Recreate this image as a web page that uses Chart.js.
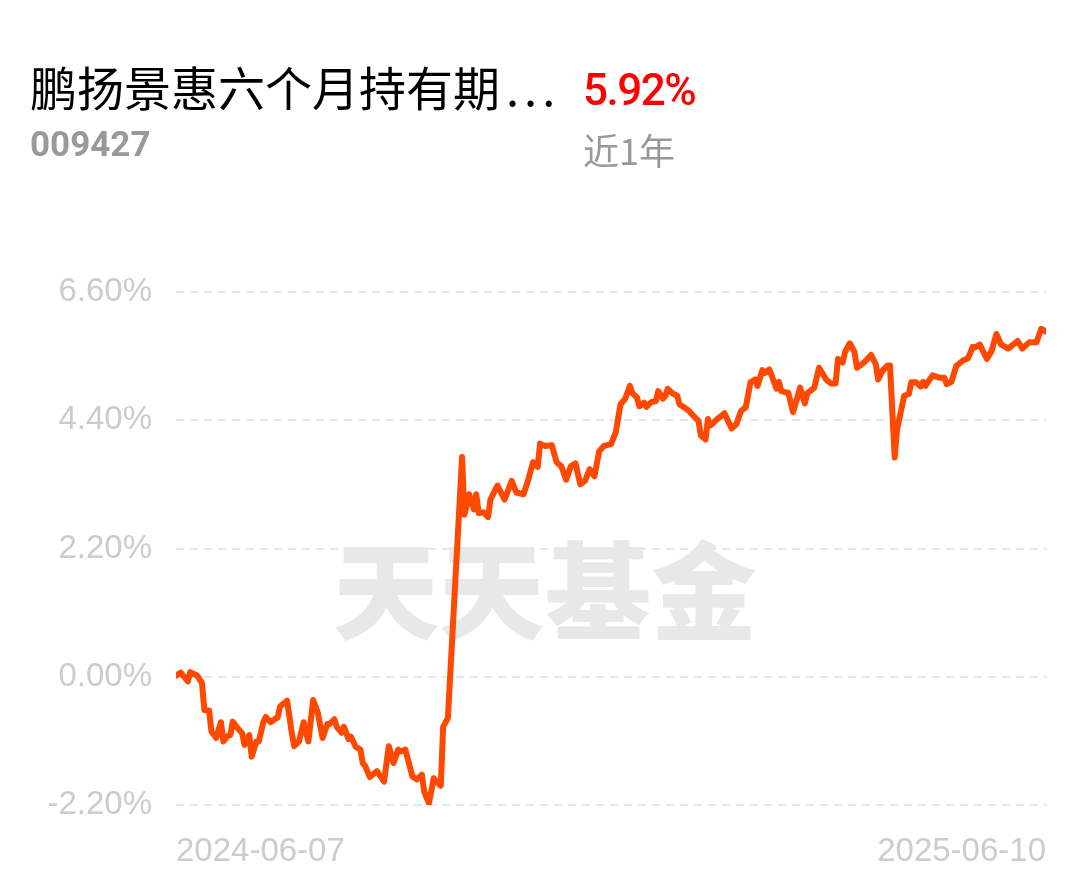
<!DOCTYPE html>
<html>
<head>
<meta charset="utf-8">
<script src="https://cdn.jsdelivr.net/npm/chart.js@4.4.1/dist/chart.umd.min.js"></script>
<style>
  html, body { margin: 0; padding: 0; background: #fff; }
  body { width: 1089px; height: 881px; position: relative; overflow: hidden; font-family: 'Noto Sans CJK SC', sans-serif; }
  #chartBox { position: absolute; left: 0; top: 0; width: 1089px; height: 881px; }
  .txt { position: absolute; white-space: nowrap; line-height: 1; }
  #fundName { left: 30px; top: 62px; font-size: 47px; color: #000; }
  #fundName .dots { margin-left: 6px; letter-spacing: 5px; }
  #fundCode { left: 30px; top: 127px; font-family: Roboto, sans-serif; font-weight: 700; font-size: 35px; color: #999; }
  #fundReturn { left: 583px; top: 68px; font-family: Roboto, sans-serif; font-weight: 500; font-size: 44px; color: #ff0000; letter-spacing: -1.5px; }
  #period { left: 583px; top: 131px; font-size: 36px; color: #999; }
</style>
</head>
<body>
<div id="chartBox"><canvas id="navChart" width="1089" height="881"></canvas></div>
<div class="txt" id="fundName">鹏扬景惠六个月持有期<span class="dots">...</span></div>
<div class="txt" id="fundCode">009427</div>
<div class="txt" id="fundReturn">5.92%</div>
<div class="txt" id="period">近1年</div>
<script>
// ===== DATA =====
// day offset from 2024-06-07, cumulative return (%)
const dayOffsets = [
  0, 2, 5, 6, 9, 11, 12, 14, 15, 17, 19, 20, 22, 23, 24, 26, 28, 29, 31, 32,
  34, 35, 37, 38, 40, 42, 43, 44, 47, 49, 50, 52, 54, 56, 58, 60, 62, 64, 65, 67,
  68, 70, 71, 73, 74, 76, 78, 79, 80, 82, 85, 88, 90, 92, 94, 95, 97, 100, 102, 104,
  105, 107, 109, 111, 112, 113, 115, 121, 122, 124, 126, 127, 128, 130, 132, 133, 135, 136, 139, 142,
  144, 147, 149, 151, 153, 154, 156, 159, 161, 163, 165, 167, 169, 171, 173, 175, 177, 179, 181, 184,
  186, 188, 190, 192, 193, 195, 196, 198, 199, 201, 203, 204, 206, 207, 208, 210, 212, 213, 215, 217,
  219, 221, 222, 224, 225, 226, 229, 232, 235, 237, 239, 241, 243, 245, 246, 248, 249, 251, 254, 255,
  256, 259, 261, 264, 266, 267, 270, 272, 275, 277, 279, 280, 282, 283, 285, 287, 288, 291, 294, 296,
  297, 299, 301, 302, 304, 305, 308, 310, 311, 313, 315, 316, 317, 320, 323, 325, 326, 328, 330, 333,
  335, 337, 338, 340, 343, 345, 347, 349, 352, 356, 358, 361, 364, 366, 368
];
const returnValues = [
  0.02, 0.07, -0.08, 0.08, 0.02, -0.11, -0.57, -0.58, -0.94, -1.05, -0.78, -1.11, -1.01, -1.00, -0.77, -0.88, -0.97, -1.17, -1.00, -1.37,
  -1.11, -1.11, -0.77, -0.69, -0.78, -0.72, -0.70, -0.51, -0.41, -0.97, -1.19, -1.11, -0.78, -1.11, -0.40, -0.62, -1.05, -0.81, -0.81, -0.73,
  -0.86, -0.96, -0.86, -1.07, -1.03, -1.20, -1.25, -1.48, -1.53, -1.72, -1.62, -1.80, -1.19, -1.48, -1.25, -1.28, -1.25, -1.71, -1.76, -1.68,
  -1.97, -2.17, -1.74, -1.83, -1.87, -0.86, -0.71, 3.77, 2.78, 3.13, 2.87, 3.13, 2.81, 2.82, 2.74, 3.04, 3.20, 3.28, 3.04, 3.36,
  3.16, 3.13, 3.38, 3.68, 3.60, 4.00, 3.96, 3.97, 3.68, 3.61, 3.38, 3.61, 3.66, 3.30, 3.36, 3.56, 3.44, 3.87, 3.96, 3.99,
  4.19, 4.67, 4.77, 4.99, 4.87, 4.79, 4.64, 4.70, 4.63, 4.71, 4.73, 4.90, 4.77, 4.82, 4.94, 4.86, 4.82, 4.67, 4.62, 4.56,
  4.47, 4.39, 4.14, 4.07, 4.42, 4.31, 4.42, 4.52, 4.26, 4.33, 4.56, 4.62, 5.05, 5.10, 4.99, 5.26, 5.21, 5.27, 4.94, 5.06,
  4.90, 4.87, 4.54, 4.96, 4.69, 4.86, 4.96, 5.30, 5.10, 5.03, 5.03, 5.45, 5.39, 5.57, 5.72, 5.57, 5.30, 5.39, 5.52, 5.36,
  5.10, 5.26, 5.34, 5.34, 3.76, 4.24, 4.82, 4.85, 5.05, 5.05, 4.98, 5.06, 4.99, 5.17, 5.13, 5.13, 5.02, 5.06, 5.33, 5.43,
  5.46, 5.66, 5.65, 5.70, 5.45, 5.59, 5.88, 5.70, 5.63, 5.76, 5.63, 5.74, 5.74, 5.97, 5.92
];
const yTickValues = [-2.2, 0, 2.2, 4.4, 6.6];
const xTickDays = [0, 368];
const xTickLabels = ['2024-06-07', '2025-06-10'];
const watermarkText = '天天基金';

// ===== CHART =====
const watermarkPlugin = {
  id: 'watermark',
  beforeDatasetsDraw(chart) {
    const { ctx, chartArea } = chart;
    const w = chartArea.right - chartArea.left;
    const h = chartArea.bottom - chartArea.top;
    ctx.save();
    ctx.font = '900 106px "Noto Sans CJK SC"';
    ctx.fillStyle = '#e8e8e8';
    ctx.textAlign = 'center';
    ctx.textBaseline = 'middle';
    ctx.fillText(watermarkText, chartArea.left + w * 0.424, chartArea.top + h * 0.582);
    ctx.restore();
  }
};

function initNavChart() {
  const ctx = document.getElementById('navChart');
  if (!ctx) return;

  new Chart(ctx.getContext('2d'), {
    type: 'line',
    data: {
      datasets: [{
        data: dayOffsets.map((d, i) => ({ x: d, y: returnValues[i] })),
        borderColor: '#ff4800',
        borderWidth: 6,
        pointRadius: 0,
        tension: 0,
        fill: false,
        borderJoinStyle: 'round',
        borderCapStyle: 'round'
      }]
    },
    options: {
      responsive: false,
      animation: false,
      layout: { padding: { top: 292, right: 43, bottom: 0, left: 0 } },
      plugins: { legend: { display: false }, tooltip: { enabled: false } },
      scales: {
        x: {
          type: 'linear',
          min: 0,
          max: 368,
          afterFit: s => { s.height = 76; },
          afterBuildTicks: s => { s.ticks = xTickDays.map(v => ({ value: v })); },
          ticks: {
            align: 'inner',
            maxRotation: 0,
            padding: 27,
            color: '#cccccc',
            font: { family: 'Liberation Sans', size: 33 },
            callback: function(v) { return xTickLabels[xTickDays.indexOf(v)]; }
          },
          grid: { display: false, drawTicks: false },
          border: { display: false }
        },
        y: {
          min: -2.2,
          max: 6.6,
          afterFit: s => { s.width = 176; },
          afterBuildTicks: s => { s.ticks = yTickValues.map(v => ({ value: v })); },
          ticks: {
            padding: 24,
            color: '#cccccc',
            font: { family: 'Liberation Sans', size: 33 },
            callback: function(v) { return v.toFixed(2) + '%'; }
          },
          grid: { color: '#e6e6e6', lineWidth: 2, drawTicks: false },
          border: { display: false, dash: [8, 6] }
        }
      }
    },
    plugins: [watermarkPlugin]
  });
}

initNavChart();
</script>
</body>
</html>
